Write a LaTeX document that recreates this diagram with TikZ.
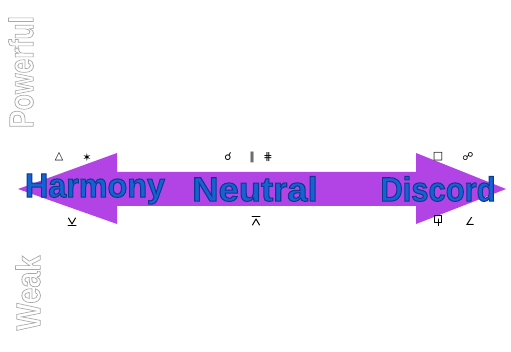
\documentclass[tikz,border=0pt]{standalone}
\usepackage{fontspec}
\setmainfont{Liberation Sans}
\newfontfamily\symfont{DejaVu Sans}
\newfontfamily\heavyfont[FakeBold=3]{Liberation Sans Bold}
\newfontfamily\outfont{Liberation Sans Bold}
\definecolor{arrowpurple}{RGB}{178,68,230}
\definecolor{labelblue}{RGB}{20,98,212}
\definecolor{outlinegray}{RGB}{170,170,170}
\newcommand{\hollowtext}[1]{\special{pdf:literal direct 1 Tr 0.8 w}#1\special{pdf:literal direct 0 Tr}}
\newcommand{\edgedtext}[1]{\special{pdf:literal direct 2 Tr 0.9 w 0.05 0.22 0.55 RG}#1\special{pdf:literal direct 0 Tr}}
\begin{document}
\begin{tikzpicture}[x=1pt,y=-1pt,
  bigword/.style={font=\heavyfont\fontsize{34}{34}\selectfont, text=labelblue, inner sep=0pt, anchor=center},
  glyph/.style={font=\symfont\fontsize{11}{11}\selectfont, text=black, inner sep=0pt},
  glyphline/.style={draw=black, line width=1pt, line cap=round, line join=round},
  sideword/.style={font=\outfont\fontsize{34}{34}\selectfont, text=outlinegray, rotate=90, inner sep=0pt, anchor=center}]
\useasboundingbox[fill=white] (0,0) rectangle (511,352);
% double arrow
\fill[arrowpurple] (18,189) -- (117,153) -- (117,172) -- (416,172) -- (416,153)
  -- (506,189) -- (416,224) -- (416,206) -- (117,206) -- (117,224) -- cycle;
% labels
\node[bigword, xscale=0.95] (harmony) at (95,189) {\edgedtext{Harmony}};
\node[bigword, xscale=1.07] (neutral) at (255,189) {\edgedtext{Neutral}};
\node[bigword, xscale=0.91] (discord) at (438,189) {\edgedtext{Discord}};
% side words
\node[sideword, xscale=0.78] (powerful) at (21,72) {\hollowtext{Powerful}};
\node[sideword, xscale=0.85] (weak) at (28,293) {\hollowtext{Weak}};
% aspect glyphs
\node[glyph] (trine) at (59,157) {△};
\node[glyph] (sextile) at (87,157) {✶};
\coordinate (semisextile) at (72,222);
\draw[glyphline] ([shift={(-3.5,-4)}]semisextile) -- ([shift={(0,2)}]semisextile) -- ([shift={(3.5,-4)}]semisextile);
\draw[glyphline] ([shift={(-4,4)}]semisextile) -- ([shift={(4,4)}]semisextile);
\node[glyph] (conj) at (228,157) {☌};
\node[glyph] (parallel) at (252,157) {∥};
\node[glyph] (contrapar) at (268,157) {⋕};
\coordinate (quincunx) at (256,221);
\draw[glyphline] ([shift={(-4,-4)}]quincunx) -- ([shift={(4,-4)}]quincunx);
\draw[glyphline] ([shift={(-3.5,4)}]quincunx) -- ([shift={(0,-2)}]quincunx) -- ([shift={(3.5,4)}]quincunx);
\node[glyph] (square) at (438,157) {□};
\node[glyph] (opposition) at (468,157) {☍};
\coordinate (sesqui) at (438,220);
\draw[glyphline] ([shift={(-3.5,-4)}]sesqui) rectangle ([shift={(3,2.5)}]sesqui);
\draw[glyphline] ([shift={(0.5,-1)}]sesqui) -- ([shift={(0.5,5.5)}]sesqui);
\node[glyph] (semisquare) at (470,221) {∠};
\end{tikzpicture}
\end{document}
